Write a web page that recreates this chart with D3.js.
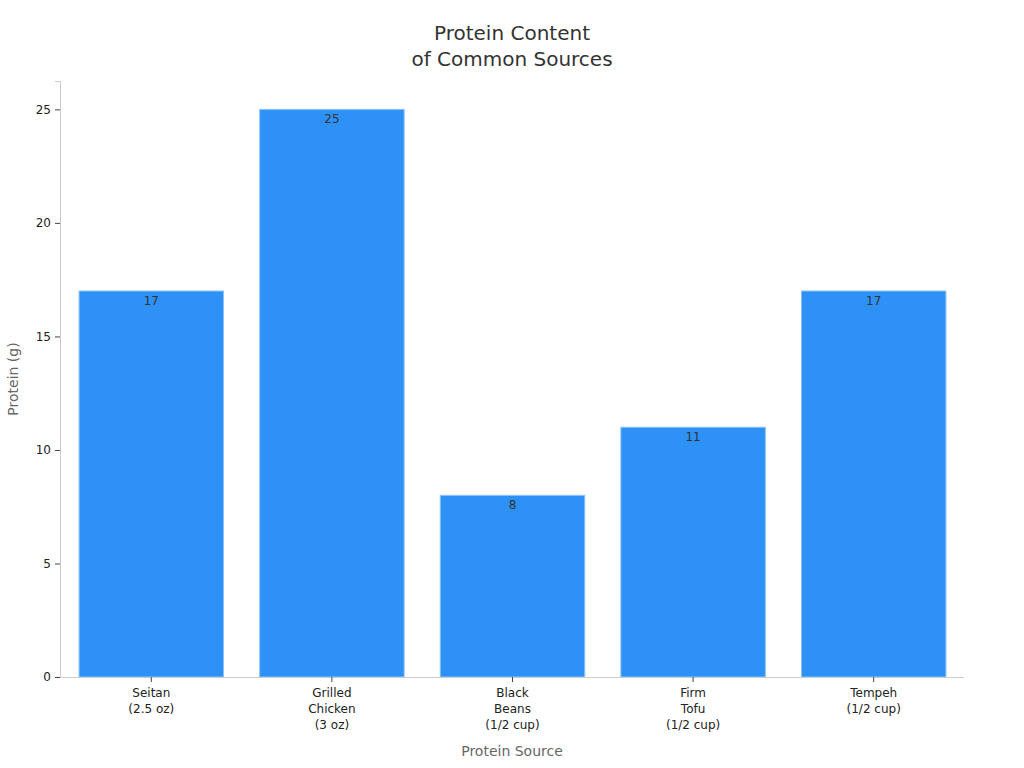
<!DOCTYPE html>
<html>
<head>
<meta charset="utf-8">
<script src="https://cdn.jsdelivr.net/npm/d3@7"></script>
<style>
  body { margin: 0; background: #fff; }
  text { font-family: "DejaVu Sans", sans-serif; }
</style>
</head>
<body>
<script>
// protein per serving, grams
const sources = [
  ["Seitan", "(2.5 oz)"],
  ["Grilled", "Chicken", "(3 oz)"],
  ["Black", "Beans", "(1/2 cup)"],
  ["Firm", "Tofu", "(1/2 cup)"],
  ["Tempeh", "(1/2 cup)"]
];
const protein = [17, 25, 8, 11, 17];
const yTicks = [0, 5, 10, 15, 20, 25];

const w = 1024, h = 768;
const m = {top: 81, right: 61, bottom: 91, left: 60};

const svg = d3.select("body").append("svg")
  .attr("width", w)
  .attr("height", h);

const x = d3.scaleBand()
  .domain(d3.range(sources.length))
  .range([m.left + 1, w - m.right + 1])
  .paddingInner(0.2)
  .paddingOuter(0.1);

const y = d3.scaleLinear()
  .domain([0, 26.25])
  .range([h - m.bottom, m.top]);

// bars
svg.selectAll("rect.bar")
  .data(protein)
  .enter()
  .append("rect")
  .attr("class", "bar")
  .attr("x", (d, i) => x(i))
  .attr("y", d => y(d))
  .attr("width", x.bandwidth())
  .attr("height", d => y(0) - y(d))
  .attr("fill", "#2e91f6")
  .attr("stroke", "#8cc2f8")
  .attr("stroke-width", 1);

svg.selectAll("text.val")
  .data(protein)
  .enter()
  .append("text")
  .attr("class", "val")
  .attr("x", (d, i) => x(i) + x.bandwidth() / 2)
  .attr("y", d => y(d) + 14)
  .attr("text-anchor", "middle")
  .attr("font-size", "12px")
  .attr("fill", "#333")
  .text(d => d);

// y axis
const gy = svg.append("g")
  .attr("transform", `translate(${m.left},0)`)
  .call(d3.axisLeft(y).tickValues(yTicks).tickSize(5).tickPadding(4));
gy.select(".domain").attr("stroke", "#ccc");
gy.selectAll(".tick line").attr("stroke", "#444");
gy.selectAll(".tick text").attr("font-size", "12px").attr("fill", "#222")
  .attr("font-family", "DejaVu Sans, sans-serif");

// x axis
const gx = svg.append("g")
  .attr("transform", `translate(0,${h - m.bottom})`)
  .call(d3.axisBottom(x).tickSize(5).tickFormat(""));
gx.select(".domain").attr("stroke", "#ccc").attr("d", `M${m.left},0.5H${w - m.right + 1}`);
gx.selectAll(".tick line").attr("stroke", "#444");
gx.selectAll(".tick").each(function(i) {
  const t = d3.select(this).append("text")
    .attr("y", 20)
    .attr("text-anchor", "middle")
    .attr("font-size", "12px")
    .attr("fill", "#222");
  sources[i].forEach((line, k) => {
    t.append("tspan").attr("x", 0).attr("dy", k === 0 ? 0 : 16).text(line);
  });
});

// titles
svg.append("text")
  .attr("x", w / 2).attr("y", 40)
  .attr("text-anchor", "middle")
  .attr("font-size", "20px")
  .attr("fill", "#333")
  .text("Protein Content");
svg.append("text")
  .attr("x", w / 2).attr("y", 66)
  .attr("text-anchor", "middle")
  .attr("font-size", "20px")
  .attr("fill", "#333")
  .text("of Common Sources");

svg.append("text")
  .attr("x", w / 2).attr("y", 756)
  .attr("text-anchor", "middle")
  .attr("font-size", "14px")
  .attr("fill", "#666")
  .text("Protein Source");

svg.append("text")
  .attr("transform", `translate(18,${(m.top + h - m.bottom) / 2}) rotate(-90)`)
  .attr("text-anchor", "middle")
  .attr("font-size", "14px")
  .attr("fill", "#666")
  .text("Protein (g)");
</script>
</body>
</html>
